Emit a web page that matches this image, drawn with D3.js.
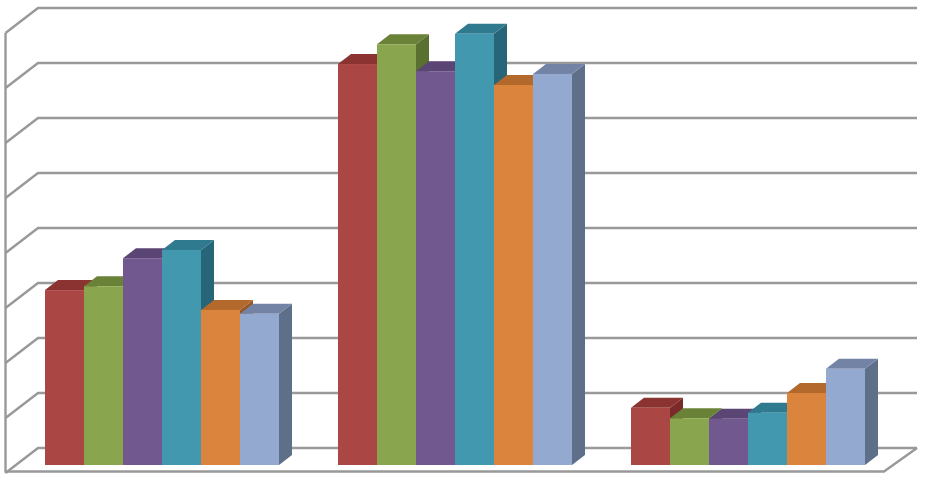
<!DOCTYPE html>
<html>
<head>
<meta charset="utf-8">
<script src="https://cdn.jsdelivr.net/npm/d3@7"></script>
<style>
  html, body { margin: 0; padding: 0; background: #fff; }
  svg { display: block; filter: blur(0.5px); }
</style>
</head>
<body>
<svg id="chart" width="926" height="478"></svg>
<script>
// values, one array per series
var groups = ['a', 'b', 'c'];
var seriesNames = ['s1', 's2', 's3', 's4', 's5', 's6'];
var s1 = [3.18, 7.29, 1.04];
var s2 = [3.25, 7.65, 0.85];
var s3 = [3.76, 7.16, 0.84];
var s4 = [3.91, 7.84, 0.95];
var s5 = [2.82, 6.91, 1.31];
var s6 = [2.75, 7.11, 1.75];
var gridTicks = [0, 1, 2, 3, 4, 5, 6, 7, 8];

var frontColors = ['#aa4643', '#89a54e', '#71588f', '#4198af', '#db843d', '#93a9cf'];
var topColors = ['#8b3331', '#6a8138', '#5b4575', '#2f7a8f', '#b3682c', '#7383a5'];
var sideColors = ['#7a2a28', '#5a7030', '#4c3a62', '#276579', '#985724', '#5e6f8a'];

var allSeries = [s1, s2, s3, s4, s5, s6];

var bars = [];
allSeries.forEach(function(values, i) {
  values.forEach(function(v, j) {
    bars.push({ group: groups[j], series: seriesNames[i], index: i, value: v });
  });
});

var svg = d3.select('#chart');

// wall scale, and the same scale shifted forward for the bars
var yWall = d3.scaleLinear().domain([0, 8]).range([448, 8]);
var yBar = d3.scaleLinear().domain([0, 8]).range([465, 25]);

var xGroup = d3.scaleBand().domain(groups).range([45, 865]).paddingInner(59 / 293);
var xBar = d3.scaleBand().domain(seriesNames).range([0, xGroup.bandwidth()]);

var wallLeft = 38, wallRight = 917, frontLeft = 5.5, frontRight = 884;
var wallDrop = 25;          // how far a wall line falls on its way to the front edge
var depthX = 13, depthY = 10;  // bar depth

var gridColor = '#999999';

// Grid lines along back and left walls
svg.append('g').selectAll('path')
  .data(gridTicks)
  .enter()
  .append('path')
  .attr('d', function(d) {
    return d3.line()([
      [frontLeft, yWall(d) + wallDrop],
      [wallLeft, yWall(d)],
      [wallRight, yWall(d)]
    ]);
  })
  .attr('fill', 'none')
  .attr('stroke', gridColor)
  .attr('stroke-width', 2.4);

// Left wall edge and the floor outline
svg.append('path')
  .attr('d', d3.line()([
    [frontLeft, yWall(8) + wallDrop],
    [frontLeft, yWall(0) + wallDrop - 1.5],
    [frontRight, yWall(0) + wallDrop - 1.5],
    [wallRight, yWall(0)]
  ]))
  .attr('fill', 'none')
  .attr('stroke', gridColor)
  .attr('stroke-width', 2.4);

// Painted left to right, each bar hides what it stands in front of
var barG = svg.append('g').selectAll('g')
  .data(bars)
  .enter()
  .append('g')
  .attr('transform', function(d) {
    return 'translate(' + (xGroup(d.group) + xBar(d.series)) + ',0)';
  });

var w = xBar.bandwidth();

barG.append('path')
  .attr('d', function(d) {
    return d3.line()([
      [w, yBar(d.value)],
      [w + depthX, yBar(d.value) - depthY],
      [w + depthX, yBar(0) - depthY],
      [w, yBar(0)]
    ]) + 'Z';
  })
  .attr('fill', function(d) { return sideColors[d.index]; });

barG.append('path')
  .attr('d', function(d) {
    return d3.line()([
      [0, yBar(d.value)],
      [depthX, yBar(d.value) - depthY],
      [w + depthX, yBar(d.value) - depthY],
      [w, yBar(d.value)]
    ]) + 'Z';
  })
  .attr('fill', function(d) { return topColors[d.index]; });

barG.append('rect')
  .attr('y', function(d) { return yBar(d.value); })
  .attr('width', w)
  .attr('height', function(d) { return yBar(0) - yBar(d.value); })
  .attr('fill', function(d) { return frontColors[d.index]; });
</script>
</body>
</html>
